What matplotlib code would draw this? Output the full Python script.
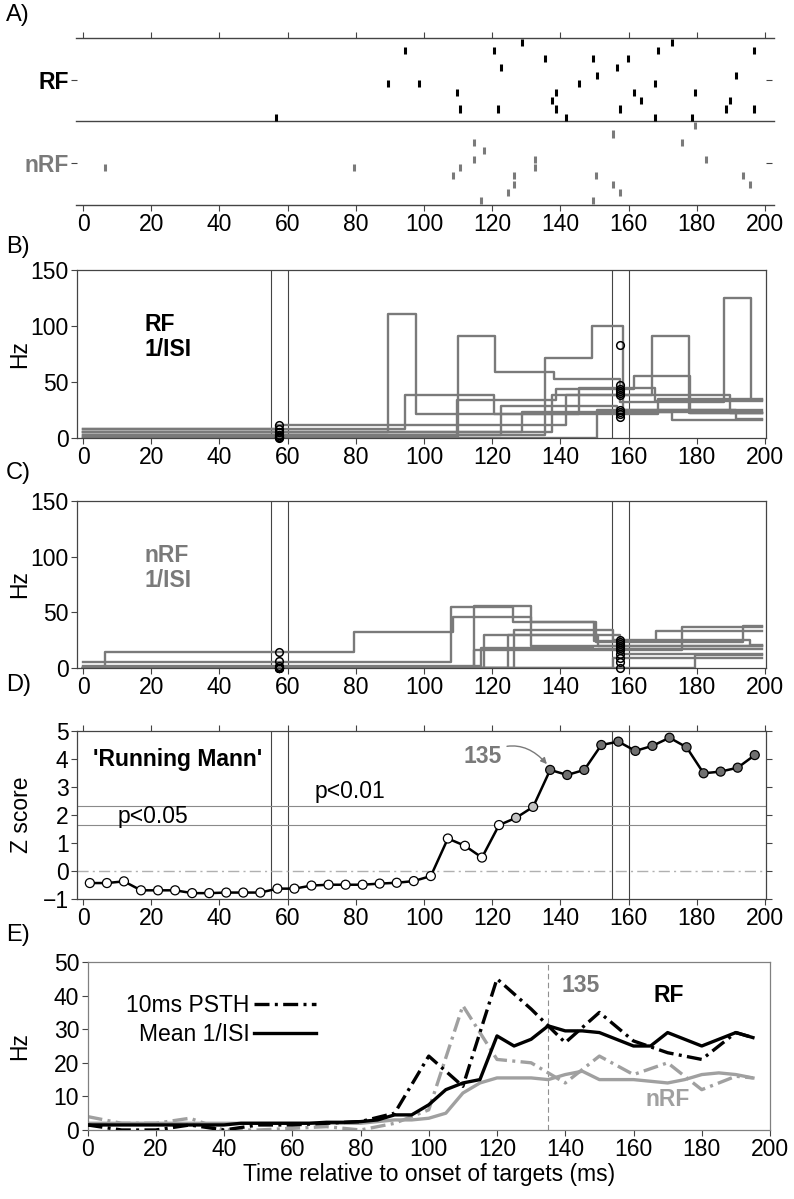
import matplotlib
matplotlib.use("Agg")
import matplotlib.pyplot as plt

plt.rcParams['font.family'] = ['Liberation Sans', 'DejaVu Sans']

# ---------------------------------------------------------------------------
# data
# ---------------------------------------------------------------------------
# A) spike rasters, 10 trials each, top row first (ms)
rf_spikes = [
    [128.6, 172.8],
    [94.4, 120.6, 168.5, 196.7],
    [135.6, 149.6, 159.7],
    [122.5, 156.6],
    [150.8, 191.5],
    [89.5, 98.6, 145.6, 167.6],
    [109.6, 138.7, 161.6, 179.6],
    [137.5, 163.7, 189.6],
    [110.5, 121.6, 138.6, 157.6, 188.6, 196.7],
    [56.5, 141.6, 167.6, 178.6],
]
nrf_spikes = [
    [179.6],
    [155.5],
    [114.7, 175.6],
    [117.6],
    [114.7, 132.5, 182.7],
    [6.4, 79.6, 110.5, 132.5],
    [108.6, 126.5, 150.5, 193.6],
    [126.5, 155.5, 195.5],
    [124.5, 157.6],
    [116.6, 149.6],
]

# B) RF 1/ISI traces: change times (ms) and rate after each change (Hz)
rf_isi_t = [
    [0, 128.6, 172.8],
    [0, 94.4, 120.6, 168.5],
    [0, 135.6, 149.2, 158.5],
    [0, 122.5, 156.6],
    [0, 150.8, 191.5],
    [0, 89.5, 97.6, 145.6, 167.6],
    [0, 109.6, 138.7, 161.6, 178.0],
    [0, 137.5, 189.6],
    [0, 110.0, 120.8, 138.0, 157.6, 188.0, 196.0],
    [0, 56.5, 141.6, 166.8, 177.6],
]
rf_isi_hz = [
    [5, 23, 16],
    [8, 38, 21, 35],
    [3, 71, 100, 23],
    [3, 29, 25],
    [0, 25, 17],
    [5, 111, 21, 45, 33],
    [1, 34, 44, 55, 22],
    [5, 38, 22],
    [0.5, 91, 59, 53, 32, 125, 34],
    [8, 12, 38, 91, 22],
]
# C) nRF 1/ISI traces
nrf_isi_t = [
    [0, 179.6],
    [0, 155.5],
    [0, 114.7, 175.6],
    [0, 117.6, 151.0],
    [0, 114.7, 131.5],
    [0, 6.4, 79.6, 108.5, 131.5, 150.0, 168.0],
    [0, 108.0, 126.0, 150.5, 193.6],
    [0, 126.5, 155.5, 195.5],
    [0, 124.5, 157.6],
    [0, 116.6, 149.6],
]
nrf_isi_hz = [
    [0, 12],
    [0, 9],
    [0, 16, 37],
    [0, 30, 20],
    [0, 56, 20],
    [0, 14, 32, 46, 41, 24, 33],
    [5, 55, 41, 23, 38],
    [0, 34, 25, 21],
    [0, 30, 13],
    [2, 18, 17],
]
trace_end = 199

# circles: 1/ISI sampled inside the two analysis windows
win_lines = [55, 60, 155, 160]
samp_early, samp_late = 57.5, 157.5
rf_circ_early = [12, 8, 5, 5, 3, 3, 1, 1, 0.5, 0]
rf_circ_late = [83, 47, 44, 42, 40, 38, 25, 23, 21, 19]
nrf_circ_early = [14, 6, 2, 0, 0, 0, 0, 0, 0, 0]
nrf_circ_late = [25, 23, 22, 20, 18, 16, 13, 9, 5, 0]

# D) running Mann-Whitney Z score
z_t = [2, 7, 12, 17, 22, 27, 32, 37, 42, 47, 52, 57, 62, 67, 72, 77, 82, 87, 92, 97,
       102, 107, 112, 117, 122, 127, 132, 137, 142, 147, 152, 157, 162, 167, 172, 177,
       182, 187, 192, 197]
z_val = [-0.43, -0.43, -0.37, -0.69, -0.69, -0.69, -0.79, -0.79, -0.77, -0.77,
         -0.77, -0.63, -0.63, -0.52, -0.49, -0.49, -0.49, -0.45, -0.42, -0.36,
         -0.18, 1.16, 0.90, 0.48, 1.64, 1.90, 2.29, 3.61, 3.43, 3.61,
         4.50, 4.62, 4.29, 4.47, 4.76, 4.42, 3.49, 3.55, 3.69, 4.14]
z_p05, z_p01 = 1.645, 2.33

# E) mean rates
psth_t = [0, 10, 20, 30, 40, 50, 60, 70, 80, 90, 100, 110, 120, 130, 140, 150, 160,
          170, 180, 190, 195]
rf_psth = [1.5, 0, 0, 1.5, 0, 1.5, 1.5, 2, 2.5, 5, 22, 13, 45, 36, 26, 35, 26.5, 23,
           21, 29, 27.5]
nrf_psth = [4, 2, 2, 3.5, 0, 0, 0.5, 1, 0, 2, 6, 37, 21, 20, 14, 22, 16.5, 20, 12,
            16, 15.5]
isi_t = [0, 5, 10, 15, 20, 25, 30, 35, 40, 45, 50, 55, 60, 65, 70, 75, 80, 85, 90, 95,
         100, 105, 110, 115, 120, 125, 130, 135, 140, 145, 150, 155, 160, 165, 170, 175,
         180, 185, 190, 195]
rf_isi_mean = [1.5, 1.5, 1.5, 1.5, 1.5, 1.5, 1.5, 1.5, 1.5, 2, 2, 2, 2, 2, 2.3, 2.3,
               2.5, 3, 4.5, 4.5, 7.5, 12, 14, 15, 28, 25, 27, 31, 29.5, 29.5, 29, 27,
               25, 25, 29, 27, 25, 27, 29, 27.5]
nrf_isi_mean = [2, 2, 2, 2, 2, 2, 2, 2, 2, 2, 2, 2, 2, 2, 2, 2, 2, 2.5, 3, 3, 3.5, 5,
                11, 14, 15.5, 15.5, 15.5, 15, 16.5, 17.5, 15, 15, 15, 14.5, 14, 15,
                16.5, 17, 16.5, 15.5]
onset_135 = 135

# ---------------------------------------------------------------------------
W, H = 794, 1199
FS = 16.5
BFS = 16.5
GRAY = '#7a7a7a'
LGRAY = '#a0a0a0'
SPINE = '#444444'
XTICKS = list(range(0, 201, 20))


def rect(l, t, r, b):
    return [l / W, 1 - b / H, (r - l) / W, (b - t) / H]


def style(ax):
    for s in ax.spines.values():
        s.set_color(SPINE)
        s.set_linewidth(0.9)
    ax.tick_params(direction='out', length=4, width=0.8, color=SPINE,
                   labelsize=FS, pad=2)
    ax.set_xticks(XTICKS)


fig = plt.figure(figsize=(W / 100, H / 100), dpi=100)

# ---------------- A) raster ----------------
axA = fig.add_axes(rect(76.9, 38, 766, 205))
axA.set_xlim(-1.8, 200.3)
axA.set_ylim(0, 20)
for s in axA.spines.values():
    s.set_visible(False)
for y in (0, 10, 20):
    axA.plot([-2, 202.5], [y, y], color=SPINE, lw=1.0, clip_on=False)
axA.eventplot(rf_spikes, lineoffsets=[19.5 - i for i in range(10)],
              linelengths=0.85, linewidths=2.2, colors='black')
axA.eventplot(nrf_spikes, lineoffsets=[9.5 - i for i in range(10)],
              linelengths=0.85, linewidths=2.2, colors=GRAY)
axA.tick_params(direction='out', length=4, width=0.8, color=SPINE, labelsize=FS,
                top=True, right=True, labelright=False, pad=2)
axA.set_xticks(XTICKS)
axA.set_yticks([5, 15])
axA.set_yticklabels(['nRF', 'RF'], fontweight='bold', fontsize=BFS)
axA.get_yticklabels()[0].set_color(GRAY)

# ---------------- B) and C) 1/ISI ----------------
def isi_panel(rect_px, times, rates, circ_early, circ_late, label, color):
    ax = fig.add_axes(rect(*rect_px))
    style(ax)
    ax.set_xlim(-1.8, 200.3)
    ax.set_ylim(0, 150)
    ax.set_yticks([0, 50, 100, 150])
    for x in win_lines:
        ax.axvline(x, color=SPINE, lw=0.8, zorder=1)
    for t, r in zip(times, rates):
        ax.plot(list(t) + [trace_end], list(r) + [r[-1]], drawstyle='steps-post',
                color=GRAY, lw=1.7, zorder=2)
    ax.plot([samp_early] * len(circ_early), circ_early, 'o', mfc='none', mec='black',
            ms=5.5, mew=1.1, clip_on=False, zorder=3)
    ax.plot([samp_late] * len(circ_late), circ_late, 'o', mfc='none', mec='black',
            ms=5.5, mew=1.1, clip_on=False, zorder=3)
    ax.text(18, 90, label, color=color, fontsize=BFS, fontweight='bold',
            ha='left', va='center', linespacing=1.1)
    ax.set_ylabel('Hz', fontsize=FS)
    ax.yaxis.set_label_coords(-0.066, 0.5)
    return ax


isi_panel((76.9, 270, 766, 438), rf_isi_t, rf_isi_hz, rf_circ_early, rf_circ_late,
          'RF\n1/ISI', 'black')
isi_panel((76.9, 501, 766, 668), nrf_isi_t, nrf_isi_hz, nrf_circ_early,
          nrf_circ_late, 'nRF\n1/ISI', GRAY)

# ---------------- D) running Mann ----------------
axD = fig.add_axes(rect(76.9, 731, 766, 899))
style(axD)
axD.tick_params(top=True, right=True)
axD.set_xlim(-1.8, 200.3)
axD.set_ylim(-1, 5)
axD.set_yticks(range(-1, 6))
for x in win_lines:
    axD.axvline(x, color=SPINE, lw=0.8, zorder=1)
axD.axhline(z_p05, color='#8a8a8a', lw=0.8, zorder=1)
axD.axhline(z_p01, color='#8a8a8a', lw=0.8, zorder=1)
axD.axhline(0, color='#b0b0b0', lw=1.0, ls=(0, (8, 3, 1.5, 3)), zorder=1)
axD.plot(z_t, z_val, color='black', lw=1.8, zorder=2)
fills = ['white' if z < z_p05 else ('#c4c4c4' if z < 3 else '#707070') for z in z_val]
axD.scatter(z_t, z_val, s=42, c=fills, edgecolors='black', linewidths=0.9, zorder=3)
axD.text(3, 3.97, "'Running Mann'", fontsize=BFS, fontweight='bold', va='center')
axD.text(68, 2.83, 'p<0.01', fontsize=FS, va='center')
axD.text(10, 1.94, 'p<0.05', fontsize=FS, va='center')
axD.annotate('135', xy=(136.3, 3.78), xytext=(111.5, 4.08), color=GRAY, fontsize=BFS,
             fontweight='bold', va='center',
             arrowprops=dict(arrowstyle='-|>', color=GRAY, lw=1.0, shrinkA=2,
                             shrinkB=1, mutation_scale=9,
                             connectionstyle='arc3,rad=-0.45'))
axD.set_ylabel('Z score', fontsize=FS)
axD.yaxis.set_label_coords(-0.063, 0.5)

# ---------------- E) mean rates ----------------
axE = fig.add_axes(rect(87.5, 962, 770, 1130))
style(axE)
for s in axE.spines.values():
    s.set_color('#808080')
axE.set_xlim(0, 200)
axE.set_ylim(0, 50)
axE.set_yticks(range(0, 51, 10))
axE.axvline(onset_135, color='#909090', lw=0.8, ls=(0, (5, 3)), zorder=1)
dashdot = (0, (4.5, 1.6, 0.9, 1.6))
axE.plot(isi_t, nrf_isi_mean, color=LGRAY, lw=2.4, zorder=2)
axE.plot(psth_t, nrf_psth, color=LGRAY, lw=2.4, ls=dashdot, zorder=2)
h_isi, = axE.plot(isi_t, rf_isi_mean, color='black', lw=2.4, zorder=3,
                  label='Mean 1/ISI')
h_psth, = axE.plot(psth_t, rf_psth, color='black', lw=2.4, ls=dashdot, zorder=3,
                   label='10ms PSTH')
axE.legend(handles=[h_psth, h_isi], loc='upper left', bbox_to_anchor=(0.04, 0.88),
           frameon=False, markerfirst=False, fontsize=FS, handlelength=2.7,
           handletextpad=0.2, labelspacing=0.3, borderpad=0)
axE.text(139, 43, '135', color=GRAY, fontsize=BFS, fontweight='bold', va='center')
axE.text(166, 40, 'RF', color='black', fontsize=BFS, fontweight='bold', va='center')
axE.text(163.5, 9, 'nRF', color=LGRAY, fontsize=BFS, fontweight='bold', va='center')
axE.set_ylabel('Hz', fontsize=FS)
axE.yaxis.set_label_coords(-0.082, 0.5)
axE.set_xlabel('Time relative to onset of targets (ms)', fontsize=FS, labelpad=1)

# panel letters
for lab, yp in [('A)', 15), ('B)', 247), ('C)', 473), ('D)', 685), ('E)', 935)]:
    fig.text(6 / W, 1 - yp / H, lab, fontsize=17, va='center', ha='left')

fig.savefig('out.png', dpi=100)
